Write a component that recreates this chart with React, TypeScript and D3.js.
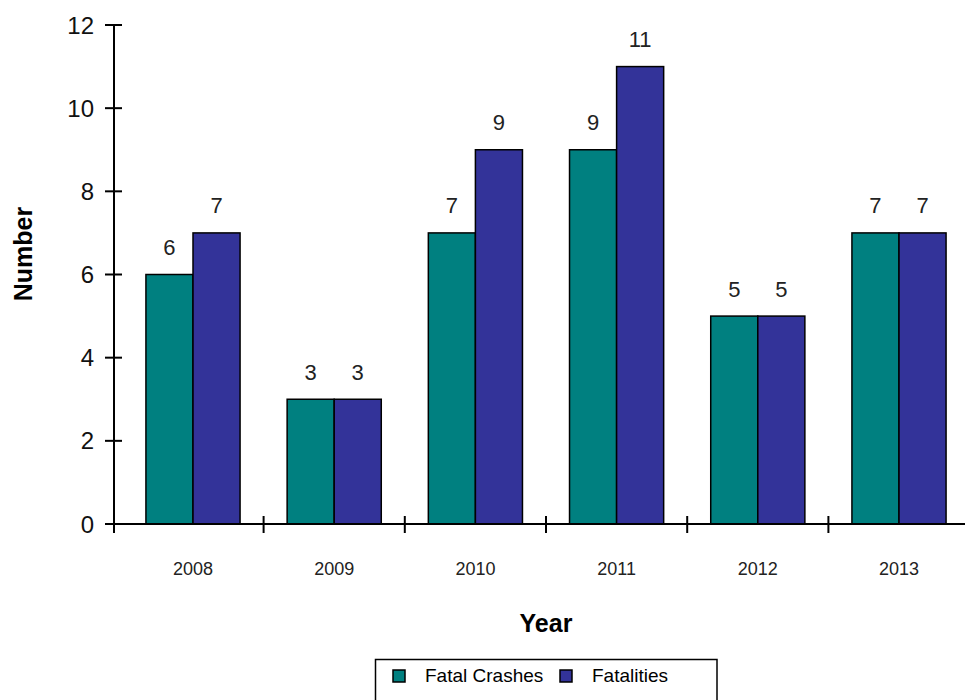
import React from "react";
import * as d3 from "d3";

const years = ["2008", "2009", "2010", "2011", "2012", "2013"];
const fatalCrashes = [6, 3, 7, 9, 5, 7];
const fatalities = [7, 3, 9, 11, 5, 7];
const seriesNames = ["Fatal Crashes", "Fatalities"];
const seriesColors = ["#008080", "#333399"];
const yTicks = [0, 2, 4, 6, 8, 10, 12];

export default function App() {
  const W = 965, H = 700;
  const axisX = 114;
  const x = d3.scaleBand<string>().domain(years).range([122.4, 969.6]);
  const inner = d3.scaleBand<string>().domain(seriesNames).range([0, x.bandwidth()]).paddingInner(0).paddingOuter(0.5);
  const y = d3.scaleLinear().domain([0, 12]).range([524, 25]);
  const series = [fatalCrashes, fatalities];
  const font = "Liberation Sans, Arial, sans-serif";
  const boundaries = years.slice(1).map((yr) => x(yr)!);

  return (
    <svg width={W} height={H} style={{ position: "absolute", left: 0, top: 0, background: "#fff" }} fontFamily={font}>
      {/* bars */}
      {years.map((yr, i) =>
        series.map((s, j) => (
          <rect
            key={yr + j}
            x={x(yr)! + inner(seriesNames[j])!}
            y={y(s[i])}
            width={inner.bandwidth()}
            height={y(0) - y(s[i])}
            fill={seriesColors[j]}
            stroke="#000"
            strokeWidth={1.5}
          />
        ))
      )}
      {/* value labels */}
      {years.map((yr, i) =>
        series.map((s, j) => (
          <text
            key={"l" + yr + j}
            x={x(yr)! + inner(seriesNames[j])! + inner.bandwidth() / 2}
            y={y(s[i]) - 19.5}
            textAnchor="middle"
            fontSize={22}
            fill="#222"
          >
            {s[i]}
          </text>
        ))
      )}
      {/* y axis */}
      <line x1={axisX} x2={axisX} y1={y(12)} y2={y(0)} stroke="#000" strokeWidth={2} />
      {yTicks.map((t) => (
        <g key={"yt" + t}>
          <line x1={axisX - 9} x2={axisX + 8} y1={y(t)} y2={y(t)} stroke="#000" strokeWidth={2} />
          <text x={94} y={y(t)} dy="0.36em" textAnchor="end" fontSize={24} fill="#111">
            {t}
          </text>
        </g>
      ))}
      {/* x axis */}
      <line x1={axisX} x2={W} y1={y(0)} y2={y(0)} stroke="#000" strokeWidth={2} />
      <line x1={axisX} x2={axisX} y1={y(0)} y2={y(0) + 9} stroke="#000" strokeWidth={2} />
      {boundaries.map((b, i) => (
        <line key={"xt" + i} x1={b} x2={b} y1={y(0) - 8} y2={y(0) + 9} stroke="#000" strokeWidth={2} />
      ))}
      {years.map((yr) => (
        <text key={"xl" + yr} x={x(yr)! + x.bandwidth() / 2} y={575} textAnchor="middle" fontSize={18} fill="#222">
          {yr}
        </text>
      ))}
      {/* axis titles */}
      <text x={546} y={632} textAnchor="middle" fontSize={25} fontWeight="bold" fill="#000">
        Year
      </text>
      <text transform="translate(32,254) rotate(-90)" textAnchor="middle" fontSize={25} fontWeight="bold" fill="#000">
        Number
      </text>
      {/* legend */}
      <rect x={375.5} y={659.5} width={341.5} height={60} fill="#fff" stroke="#000" strokeWidth={1.5} />
      <rect x={393} y={670} width={12} height={12} fill={seriesColors[0]} stroke="#000" strokeWidth={1.5} />
      <text x={425} y={682} fontSize={19} fill="#000">{seriesNames[0]}</text>
      <rect x={560} y={670} width={12} height={12} fill={seriesColors[1]} stroke="#000" strokeWidth={1.5} />
      <text x={592} y={682} fontSize={19} fill="#000">{seriesNames[1]}</text>
    </svg>
  );
}
